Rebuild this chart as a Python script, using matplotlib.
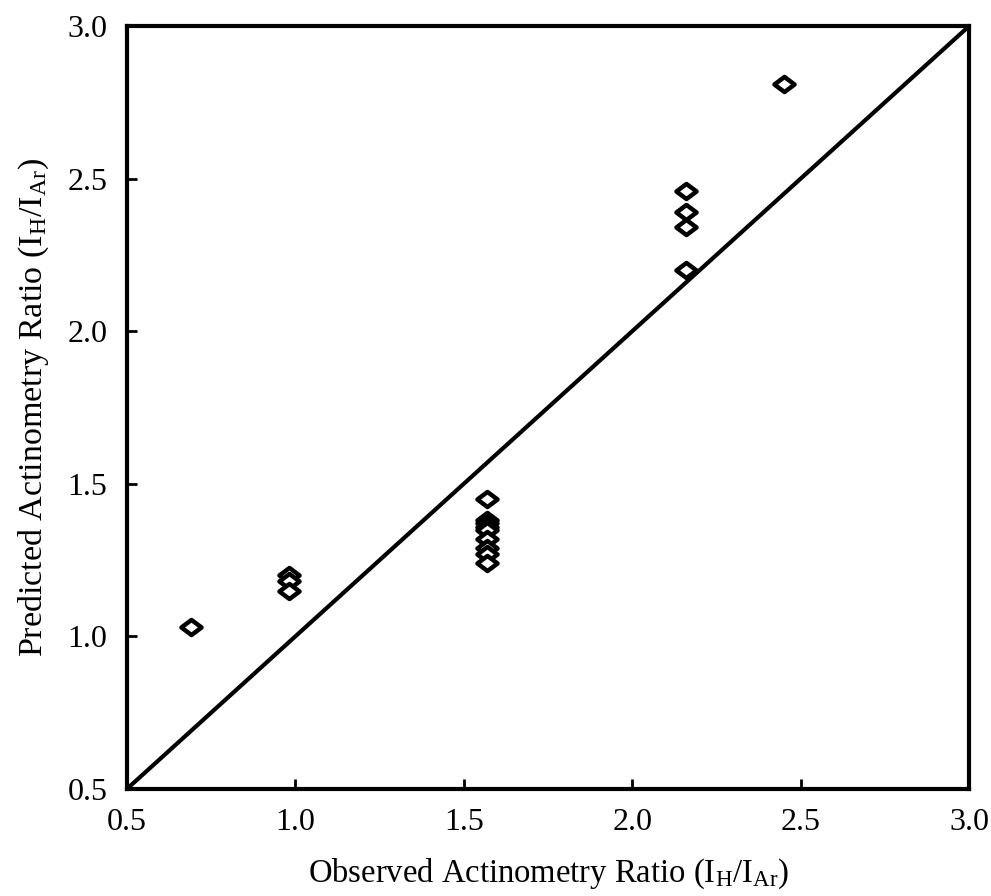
import numpy as np
import matplotlib
matplotlib.use("Agg")
import matplotlib.pyplot as plt
from matplotlib.path import Path

plt.rcParams["font.family"] = ["Liberation Serif", "DejaVu Serif"]
plt.rcParams["mathtext.fontset"] = "custom"
plt.rcParams["mathtext.rm"] = "Liberation Serif"
plt.rcParams["mathtext.it"] = "Liberation Serif:italic"

# 관측 vs 예측 actinometry 비
observed = [0.69,
            0.98, 0.98, 0.98,
            1.57, 1.57, 1.57, 1.57, 1.57, 1.57, 1.57, 1.57, 1.57,
            2.16, 2.16, 2.16, 2.16,
            2.45]
predicted = [1.03,
             1.20, 1.18, 1.15,
             1.45, 1.38, 1.37, 1.36, 1.35, 1.32, 1.29, 1.27, 1.24,
             2.46, 2.39, 2.34, 2.20,
             2.81]
ticks = [0.5, 1.0, 1.5, 2.0, 2.5, 3.0]

# 가로로 약간 넓은 다이아몬드 마커
diamond = Path([(-1, 0), (0, 0.75), (1, 0), (0, -0.75), (-1, 0)],
               [Path.MOVETO, Path.LINETO, Path.LINETO, Path.LINETO, Path.CLOSEPOLY])

fig = plt.figure(figsize=(9.91, 8.96), dpi=100)
ax = fig.add_axes([0.128, 0.1194, 0.85, 0.8516])

ax.plot([0.5, 3.0], [0.5, 3.0], color="black", lw=3.0, solid_capstyle="butt", zorder=2)
ax.plot(observed, predicted, ls="none", marker=diamond, ms=14.5, mfc="white",
        mec="black", mew=3.2, zorder=3)

ax.set_xlim(0.5, 3.0); ax.set_ylim(0.5, 3.0)
ax.set_xticks(ticks); ax.set_yticks(ticks)
ax.set_xticklabels([f"{t:.1f}" for t in ticks])
ax.set_yticklabels([f"{t:.1f}" for t in ticks])
ax.tick_params(direction="in", length=7, width=2.0, labelsize=23, top=False, right=False)
ax.tick_params(axis="x", pad=14)
ax.tick_params(axis="y", pad=14)
for s in ax.spines.values():
    s.set_linewidth(3.0)

ax.set_xlabel(r"Observed Actinometry Ratio (I$_{\mathrm{H}}$/I$_{\mathrm{Ar}}$)", fontsize=23.5, labelpad=14)
ax.set_ylabel(r"Predicted Actinometry Ratio (I$_{\mathrm{H}}$/I$_{\mathrm{Ar}}$)", fontsize=24.5, labelpad=12)

fig.savefig("out.png", dpi=100)
